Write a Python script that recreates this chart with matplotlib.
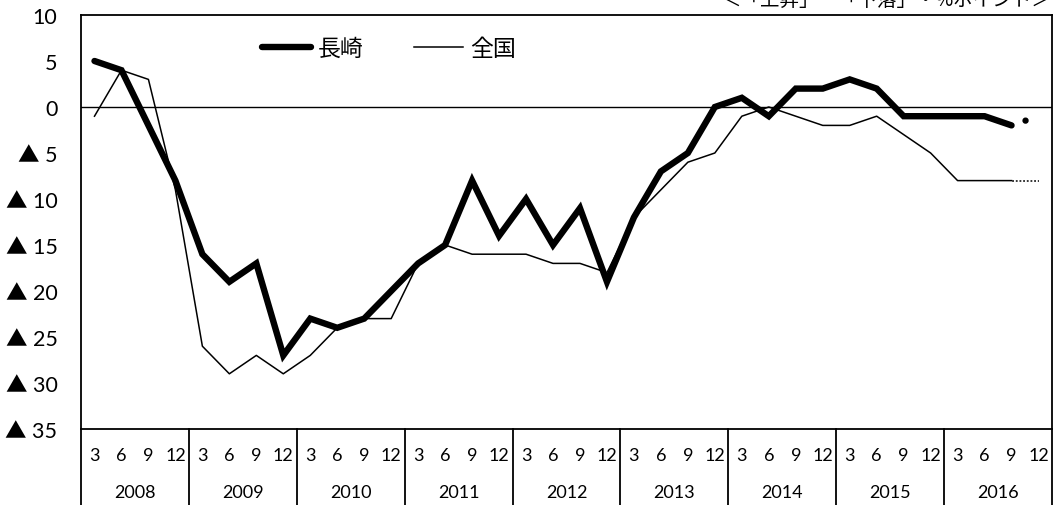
import numpy as np
import matplotlib
matplotlib.use("Agg")
import matplotlib.pyplot as plt

plt.rcParams['font.family'] = ['Lato', 'Noto Sans CJK JP', 'DejaVu Sans']

years = ["2008", "2009", "2010", "2011", "2012", "2013", "2014", "2015", "2016"]
months = ["3", "6", "9", "12"]

# 長崎 (last value = forecast)
nagasaki = [5, 4, -2, -8,
            -16, -19, -17, -27,
            -23, -24, -23, -20,
            -17, -15, -8, -14,
            -10, -15, -11, -19,
            -12, -7, -5, 0,
            1, -1, 2, 2,
            3, 2, -1, -1,
            -1, -1, -2, -1]

# 全国 (last value = forecast)
zenkoku = [-1, 4, 3, -9,
           -26, -29, -27, -29,
           -27, -24, -23, -23,
           -17, -15, -16, -16,
           -16, -17, -17, -18,
           -12, -9, -6, -5,
           -1, 0, -1, -2,
           -2, -1, -3, -5,
           -8, -8, -8, -8]

yticks = [10, 5, 0, -5, -10, -15, -20, -25, -30, -35]

W, H = 1057, 506
fig = plt.figure(figsize=(W / 100, H / 100), dpi=100)
ax = fig.add_axes([81 / W, 1 - 430 / H, (1052 - 81) / W, (430 - 16) / H])

n = len(nagasaki)
x = np.arange(n)

thick = 4.6
thin = 1.1

ax.axhline(0, color='black', lw=1.0, zorder=1)

# actual values
ax.plot(x[:-1], zenkoku[:-1], color='black', lw=thin, zorder=2, label='全国')
ax.plot(x[:-1], nagasaki[:-1], color='black', lw=thick, zorder=3,
        solid_capstyle='round', solid_joinstyle='miter', label='長崎')

# forecast segments
ax.plot(x[-2:], zenkoku[-2:], color='black', lw=thin,
        linestyle=(-2.5, (1.2, 1.2)), zorder=2)
ax.plot(x[-2:], nagasaki[-2:], color='black', lw=thick,
        linestyle=(17.7, (0.01, 20)), dash_capstyle='round', zorder=3)

ax.set_xlim(-0.5, n - 0.5)
ax.set_ylim(-35, 10)

ax.set_yticks(yticks)
ax.set_yticklabels([str(v) if v >= 0 else "▲ " + str(-v) for v in yticks])
ax.tick_params(axis='y', length=0, pad=17, labelsize=15.5)
for t in ax.get_yticklabels():
    t.set_family(['Lato', 'Noto Sans CJK JP'])

ax.set_xticks(x)
ax.set_xticklabels(months * len(years))
ax.tick_params(axis='x', length=0, pad=13, labelsize=13)

for s in ax.spines.values():
    s.set_linewidth(1.3)

# year separators and labels below the axis
for k in range(len(years) + 1):
    ax.axvline(4 * k - 0.5, ymin=-0.2, ymax=0, color='black', lw=1.3, clip_on=False)
for k, yr in enumerate(years):
    ax.text(4 * k + 1.5, -0.152, yr, transform=ax.get_xaxis_transform(),
            ha='center', va='center', fontsize=13)

# legend (thick first)
h, l = ax.get_legend_handles_labels()
ax.legend([h[1], h[0]], [l[1], l[0]], loc='center left', bbox_to_anchor=(0.186, 0.92),
          ncol=2, frameon=False, fontsize=16.5, handlelength=2.15, handletextpad=0.3,
          columnspacing=2.2, borderpad=0, borderaxespad=0)

fig.text(1052 / W, 1 - 11 / H, "＜「上昇」－「下落」・%ポイント＞", ha='right', va='bottom',
         fontsize=14, family=['Noto Sans CJK JP', 'DejaVu Sans'])

fig.savefig("out.png", dpi=100)
